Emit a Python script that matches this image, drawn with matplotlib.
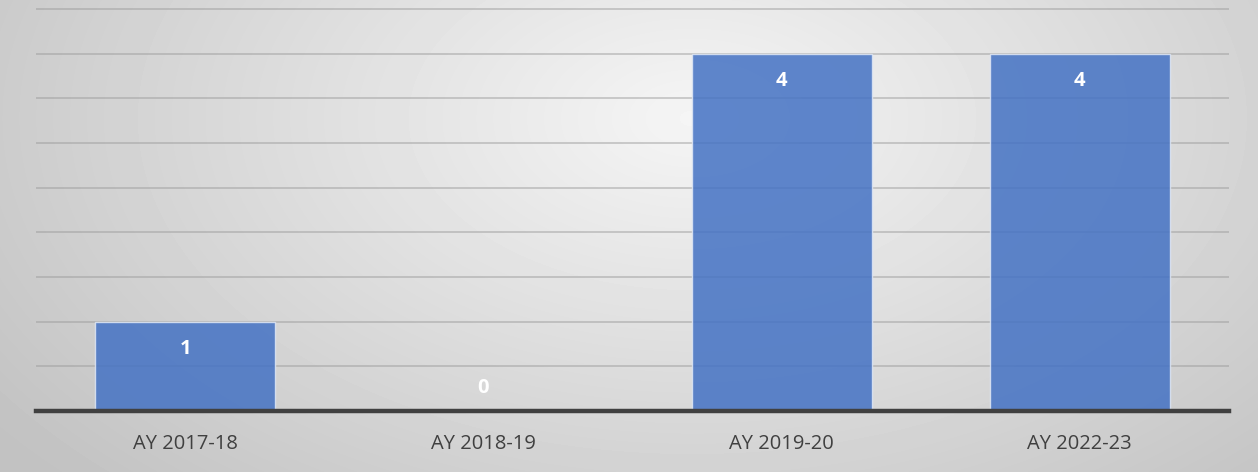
import matplotlib
matplotlib.use('Agg')
import matplotlib.pyplot as plt
import numpy as np

plt.rcParams.update({'font.family': ['Open Sans', 'DejaVu Sans']})

# 데이터
categories = ['AY 2017-18', 'AY 2018-19', 'AY 2019-20', 'AY 2022-23']
values = [1, 0, 4, 4]

W, H, DPI = 1258, 472, 100
fig = plt.figure(figsize=(W / DPI, H / DPI), dpi=DPI)

# 방사형 회색 그라데이션 배경
bg = fig.add_axes([0, 0, 1, 1], zorder=0)
yy, xx = np.mgrid[0:H, 0:W]
r = np.sqrt(((xx - W * 0.55) / (W * 0.62)) ** 2 + ((yy - H * 0.25) / (H * 1.0)) ** 2)
shade = np.clip(0.96 - 0.18 * r, 0.76, 1.0)
bg.imshow(shade, cmap='gray', vmin=0, vmax=1, aspect='auto', interpolation='bilinear')
bg.axis('off')

ax = fig.add_axes([36 / W, 1 - 411 / H, (1229 - 36) / W, 411 / H], zorder=1)
ax.patch.set_alpha(0)
x = np.arange(len(categories))
bars = ax.bar(x, values, width=0.603, color='#4472C4', alpha=0.85,
              edgecolor='#dfe7f5', linewidth=1.0, zorder=3)

ax.set_xlim(-0.5, len(categories) - 0.5)
ax.set_ylim(0, 4.6)
ax.set_yticks(np.arange(0.5, 4.6, 0.5))
ax.yaxis.grid(True, color='#9a9a9a', lw=1.3, alpha=0.5, zorder=1)
ax.set_axisbelow(True)
ax.tick_params(axis='y', left=False, labelleft=False)
ax.tick_params(axis='x', bottom=False, pad=13, labelsize=14.5, labelcolor='#404040')
ax.set_xticks(x)
ax.set_xticklabels(categories)
for s in ['top', 'right', 'left']:
    ax.spines[s].set_visible(False)
ax.spines['bottom'].set_color('#404040')
ax.spines['bottom'].set_linewidth(3.2)
ax.spines['bottom'].set_zorder(4)

for xi, v in zip(x, values):
    ypos = v - 0.31 if v > 0 else 0.26
    ax.text(xi, ypos, str(v), ha='center', va='center', color='white',
            fontsize=14.5, fontweight='bold', zorder=5)

plt.savefig('out.png', dpi=DPI)
plt.close()
